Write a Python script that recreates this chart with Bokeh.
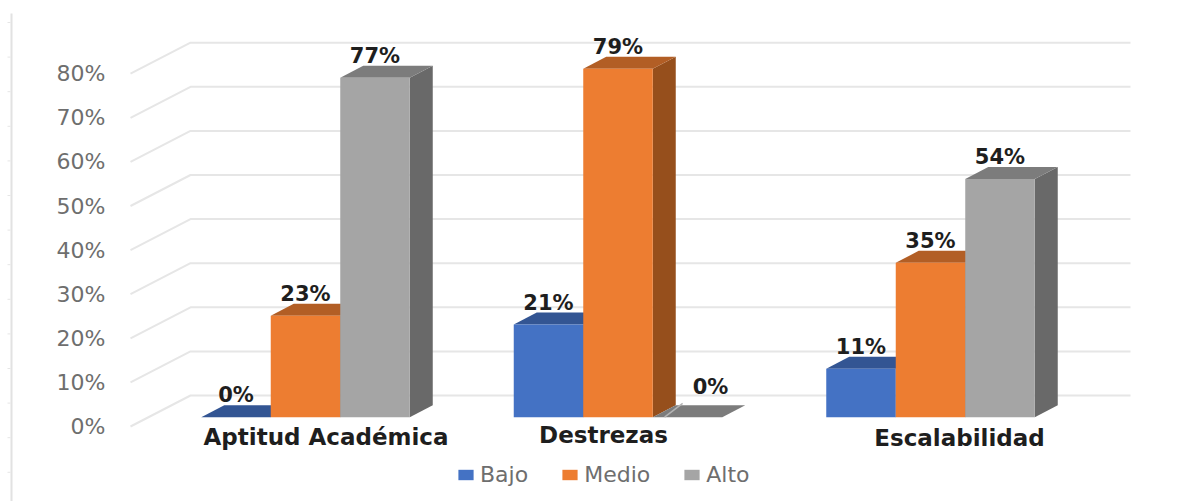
from bokeh.embed import file_html
from bokeh.resources import INLINE
from bokeh.plotting import figure
from bokeh.models import (Range1d, LinearAxis, FixedTicker, Legend, LegendItem,
                          ColumnDataSource, CustomJSTickFormatter)
from bokeh.core.properties import value

categories = ["Aptitud Académica", "Destrezas", "Escalabilidad"]
bajo = [0, 21, 11]
medio = [23, 79, 35]
alto = [77, 0, 54]
series_names = ["Bajo", "Medio", "Alto"]
tick_values = [0, 10, 20, 30, 40, 50, 60, 70, 80]

front_colors = ["#4472C4", "#ED7D31", "#A5A5A5"]
top_colors = ["#335593", "#B25E25", "#7C7C7C"]
side_colors = ["#2B4C83", "#964F1C", "#696969"]

# layout constants (picture pixels)
W, H = 1180, 501
PX_PER_PCT = 4.41
PX_PER_GROUP = 312.5
G0 = 305.0
BASE = 416.7
FRONT0 = 426.0
BACK0 = 395.0
BW = 69.5 / PX_PER_GROUP
DX = 23 / PX_PER_GROUP
DY = 12 / PX_PER_PCT


def xu(px):
    return (px - G0) / PX_PER_GROUP


def yu(py):
    return (BASE - py) / PX_PER_PCT


p = figure(width=W, height=H, output_backend="svg", toolbar_location=None,
           x_range=Range1d(xu(0), xu(W)), y_range=Range1d(yu(H), yu(0)),
           x_axis_location=None, y_axis_location=None, min_border=0)
p.grid.visible = False
p.outline_line_color = None
p.background_fill_color = "white"
p.extra_y_ranges["front"] = Range1d((FRONT0 - H) / PX_PER_PCT, FRONT0 / PX_PER_PCT)

# left rule with small ticks
rule_ticks = [yu(22 + 34.6 * i) for i in range(14)]
p.line([xu(11), xu(11)], [yu(13), yu(H)], line_color="#E2E2E2", line_width=2)
p.segment(x0=[xu(7)] * 14, x1=[xu(10)] * 14, y0=rule_ticks, y1=rule_ticks,
          line_color="#E6E6E6", line_width=1)

# value axis
yaxis = LinearAxis(y_range_name="front", fixed_location=xu(112),
                   ticker=FixedTicker(ticks=tick_values),
                   formatter=CustomJSTickFormatter(code="return tick + '%'"),
                   major_tick_line_color=None, minor_tick_line_color=None,
                   axis_line_color=None, major_tick_out=0, major_tick_in=0,
                   major_label_standoff=7, major_label_text_color="#6E6E6E",
                   major_label_text_font="DejaVu Sans", major_label_text_font_size="22px")
p.add_layout(yaxis, "left")

# walls: diagonal + back gridlines
xs, ys = [], []
for t in tick_values:
    xs.append([xu(130), xu(190), xu(1130)])
    ys.append([t + yu(FRONT0), t + yu(BACK0), t + yu(BACK0)])
p.multi_line(xs, ys, line_color="#E6E6E6", line_width=2)

# bars
all_series = [bajo, medio, alto]
renderers = []
for s, vals in enumerate(all_series):
    lefts = [g + (s - 1.5) * BW for g in range(len(vals))]
    rights = [l + BW for l in lefts]
    top_x = [[l, r, r + DX, l + DX] for l, r in zip(lefts, rights)]
    top_y = [[v, v, v + DY, v + DY] for v in vals]
    side_x = [[r, r + DX, r + DX, r] for r in rights]
    side_y = [[0, DY, v + DY, v] for v in vals]
    p.patches(side_x, side_y, fill_color=side_colors[s], line_color=None)
    p.patches(top_x, top_y, fill_color=top_colors[s], line_color=None)
    r = p.vbar(x=[l + BW / 2 for l in lefts], width=BW, bottom=0, top=vals,
               fill_color=front_colors[s], line_color=None)
    renderers.append(r)

# light mark on the flat grey bar of Destrezas
fx = 1 + 0.5 * BW
p.line([fx + 0.17 * BW, fx + 0.43 * BW], [0, DY * 1.15], line_color="#B4B4B4", line_width=1.5)

# data labels
lx, ly, lt, ldx, ldy = [], [], [], [], []
for s, vals in enumerate(all_series):
    for g, v in enumerate(vals):
        lx.append(g + (s - 1) * BW)
        ly.append(v)
        lt.append(f"{v}%")
        flat_side = (s == 2 and v == 0)
        ldx.append(23 if flat_side else 0)
        ldy.append(-30 if flat_side else -22)
p.text(x="x", y="y", text="t", x_offset="dx", y_offset="dy",
       source=ColumnDataSource(dict(x=lx, y=ly, t=lt, dx=ldx, dy=ldy)),
       text_font=value("DejaVu Sans"), text_font_style="bold", text_font_size="21px",
       text_color="#1E1E1E", text_align="center", text_baseline="middle")

# category labels
p.text(x=[xu(325.5), xu(603), xu(959)], y=[yu(436), yu(434), yu(437)], text=categories,
       text_font=value("DejaVu Sans"), text_font_style="bold", text_font_size="23px",
       text_color="#1E1E1E", text_align="center", text_baseline="middle")

legend = Legend(items=[LegendItem(label=n, renderers=[r]) for n, r in zip(series_names, renderers)],
                orientation="horizontal", location=(456, 14), border_line_color=None,
                background_fill_alpha=0, padding=0, margin=0, spacing=32, label_standoff=5,
                glyph_width=19, glyph_height=13,
                label_text_font="DejaVu Sans", label_text_font_size="22px",
                label_text_color="#6E6E6E")
p.add_layout(legend, "center")

open("out.html", "w").write(file_html(p, INLINE))
